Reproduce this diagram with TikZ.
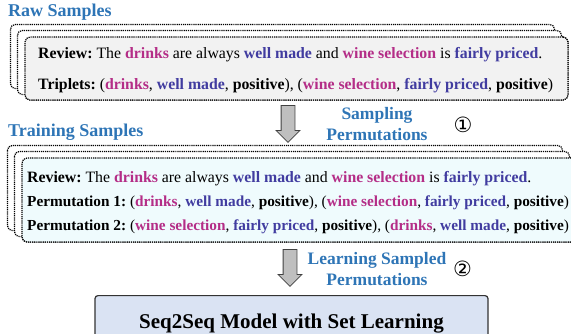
\documentclass[tikz,border=0pt]{standalone}
\usepackage{fontspec}
\setmainfont{Liberation Serif}
\newfontfamily\circfont{DejaVu Sans}
\usetikzlibrary{shapes.arrows}
\frenchspacing

\definecolor{titleblue}{RGB}{46,117,182}
\definecolor{aspcolor}{RGB}{180,45,135}
\definecolor{opicolor}{RGB}{65,60,160}
\definecolor{rawfill}{RGB}{242,242,242}
\definecolor{trainfill}{RGB}{239,251,253}
\definecolor{modelfill}{RGB}{218,227,243}
\newcommand{\asp}[1]{\textcolor{aspcolor}{\textbf{#1}}}
\newcommand{\opi}[1]{\textcolor{opicolor}{\textbf{#1}}}

\tikzset{
  stackbox/.style={draw, fill=white, line width=1.2pt, dash pattern=on 1.2pt off 0.9pt, rounded corners=5pt},
  frontbox/.style={stackbox, inner sep=0pt},
  sampletext/.style={anchor=base west, inner sep=0pt, font=\fontsize{15.8}{19}\selectfont},
  permtext/.style={sampletext, font=\fontsize{15.3}{19}\selectfont},
  titletext/.style={anchor=base west, inner sep=0pt, text=titleblue, font=\fontsize{18}{20}\selectfont\bfseries},
  steptext/.style={align=center, inner sep=0pt, text=titleblue, font=\fontsize{17.5}{20.5}\selectfont\bfseries},
  numtext/.style={inner sep=0pt, font=\circfont\fontsize{21}{21}\selectfont},
  blockarrow/.style={single arrow, draw=black!75, fill=black!25, line width=0.8pt, rotate=-90, anchor=tail,
    inner xsep=0pt, inner ysep=6.5pt, single arrow head extend=5pt, single arrow head indent=0pt},
}

\begin{document}
\begin{tikzpicture}[x=1pt, y=-1pt]
\useasboundingbox (0,0) rectangle (571,333);

% raw samples
\node[titletext] (rawtitle) at (8,16) {Raw Samples};
\node[frontbox, fill=rawfill, minimum width=543, minimum height=63] (raw) at (296.5,68.5) {};
\foreach \d in {2,1}
  \draw[stackbox] ([shift={(-7*\d,-6*\d)}]raw.north west) rectangle ([shift={(-7*\d,-6*\d)}]raw.south east);
\node[frontbox, fill=rawfill, minimum width=543, minimum height=63] at (raw) {};
\node[sampletext] (rawreview) at (38,58) {\textbf{Review:} The \asp{drinks} are always \opi{well made} and \asp{wine selection} is \opi{fairly priced}.};
\node[sampletext] (rawtriplets) at (38,89) {\textbf{Triplets:} (\asp{drinks}, \opi{well made}, \textbf{positive}), (\asp{wine selection}, \opi{fairly priced}, \textbf{positive})};

% step 1
\node[blockarrow, minimum height=37] (arrow1) at (288,105) {};
\node[steptext] (step1) at (377,124) {Sampling\\Permutations};
\node[numtext] (num1) at (463,125) {①};

% training samples
\node[titletext] (traintitle) at (8,136.5) {Training Samples};
\node[frontbox, fill=trainfill, minimum width=554, minimum height=84] (train) at (299,200) {};
\foreach \d in {2,1}
  \draw[stackbox] ([shift={(-7*\d,-6*\d)}]train.north west) rectangle ([shift={(-7*\d,-6*\d)}]train.south east);
\node[frontbox, fill=trainfill, minimum width=554, minimum height=84] at (train) {};
\node[sampletext] (trainreview) at (27,182) {\textbf{Review:} The \asp{drinks} are always \opi{well made} and \asp{wine selection} is \opi{fairly priced}.};
\node[permtext] (perm1) at (27,206) {\textbf{Permutation 1:} (\asp{drinks}, \opi{well made}, \textbf{positive}), (\asp{wine selection}, \opi{fairly priced}, \textbf{positive})};
\node[permtext] (perm2) at (27,230) {\textbf{Permutation 2:} (\asp{wine selection}, \opi{fairly priced}, \textbf{positive}), (\asp{drinks}, \opi{well made}, \textbf{positive})};

% step 2
\node[blockarrow, minimum height=37] (arrow2) at (290,249) {};
\node[steptext] (step2) at (377,269) {Learning Sampled\\Permutations};
\node[numtext] (num2) at (462.5,269) {②};

% model
\node[draw=black!80, fill=modelfill, line width=1.2pt, rounded corners=3pt, anchor=north,
  minimum width=393, minimum height=56, font=\fontsize{21}{24}\selectfont\bfseries] (model) at (291.5,295) {Seq2Seq Model with Set Learning};
\end{tikzpicture}
\end{document}
